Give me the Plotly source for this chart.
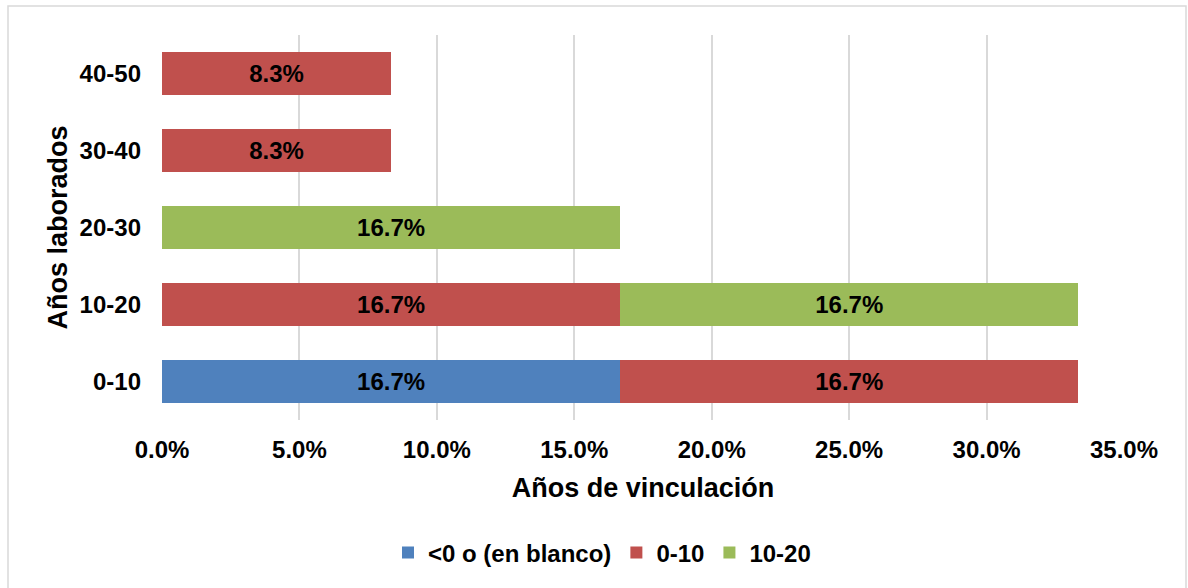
import plotly.graph_objects as go

categories = ["0-10", "10-20", "20-30", "30-40", "40-50"]
series_names = ["<0 o (en blanco)", "0-10", "10-20"]
blank_vals = [0.1667, None, None, None, None]
v0_10_vals = [0.1667, 0.1667, None, 0.0833, 0.0833]
v10_20_vals = [None, 0.1667, 0.1667, None, None]
colors = ["#4F81BD", "#C0504D", "#9BBB59"]
x_ticks = [0, 0.05, 0.10, 0.15, 0.20, 0.25, 0.30, 0.35]

FONT = "Liberation Sans, Arial, sans-serif"
W, H = 1188, 588
# plot area in screen pixels: x 162..1124, y 35..420
L, T = 162, 35
R = W - 1124
B = H - 420

pw = W - L - R
ph = H - T - B
def px2x(p):
    return (p - L) / pw
def py2y(p):
    return (H - B - p) / ph

fig = go.Figure()
for name, vals, col in zip(series_names, [blank_vals, v0_10_vals, v10_20_vals], colors):
    fig.add_trace(go.Bar(
        y=categories, x=vals, name=name, orientation="h",
        marker=dict(color=col, line=dict(width=0)),
        texttemplate="%{x:.1%}", textposition="inside", insidetextanchor="middle",
        textfont=dict(family=FONT, size=24, color="black", weight="bold"),
        constraintext="none",
    ))

fig.update_layout(
    width=W, height=H, barmode="stack", bargap=0.43,
    margin=dict(l=L, r=R, t=T, b=B),
    plot_bgcolor="white", paper_bgcolor="white",
    font=dict(family=FONT, size=24, color="black", weight="bold"),
    xaxis=dict(range=[0, 0.35], tickvals=x_ticks, tickformat=".1%",
               showgrid=True, gridcolor="#D9D9D9", gridwidth=1.5, zeroline=False,
               showline=False, ticks="", ticklabelstandoff=13,
               tickfont=dict(family=FONT, size=24, color="black", weight="bold"),
               title=dict(text="Años de vinculación", standoff=16,
                          font=dict(family=FONT, size=27, color="black", weight="bold"))),
    yaxis=dict(showgrid=False, showline=False, ticks="", ticklabelstandoff=20,
               tickfont=dict(family=FONT, size=24, color="black", weight="bold"),
               title=dict(text="Años laborados", standoff=4,
                          font=dict(family=FONT, size=27, color="black", weight="bold"))),
    legend=dict(orientation="h", x=px2x(602), xanchor="center", y=py2y(553), yanchor="middle",
                font=dict(family=FONT, size=24, color="black", weight="bold"),
                traceorder="normal", itemclick=False),
    shapes=[dict(type="rect", xref="paper", yref="paper",
                 x0=px2x(8), x1=px2x(1186), y0=py2y(600), y1=py2y(6),
                 line=dict(color="#D9D9D9", width=1.5), fillcolor="rgba(0,0,0,0)", layer="below")],
)

fig.write_html("out.html", config={"displayModeBar": False},
               post_script="document.body.style.margin='0px';document.body.style.overflow='hidden';")
